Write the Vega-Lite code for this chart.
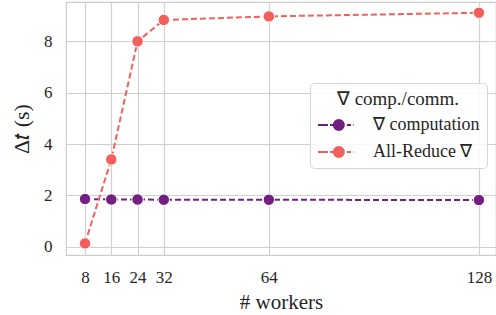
{
  "$schema": "https://vega.github.io/schema/vega-lite/v6.json",
  "width": 430,
  "height": 253,
  "autosize": "none",
  "padding": {"left": 66, "top": 2, "right": 0, "bottom": 60},
  "background": "white",
  "config": {
    "font": "Liberation Serif",
    "view": {"stroke": "#cccccc", "strokeWidth": 1.2},
    "axis": {
      "gridColor": "#d0d0d0",
      "gridWidth": 1.2,
      "domain": false,
      "ticks": false,
      "labelFont": "Liberation Serif",
      "titleFont": "Liberation Serif"
    }
  },
  "data": {
    "values": [
      {"workers": 8, "series": "∇ computation", "t": 1.86},
      {"workers": 16, "series": "∇ computation", "t": 1.84},
      {"workers": 24, "series": "∇ computation", "t": 1.84},
      {"workers": 32, "series": "∇ computation", "t": 1.83},
      {"workers": 64, "series": "∇ computation", "t": 1.83},
      {"workers": 128, "series": "∇ computation", "t": 1.82},
      {"workers": 8, "series": "All-Reduce ∇", "t": 0.13},
      {"workers": 16, "series": "All-Reduce ∇", "t": 3.4},
      {"workers": 24, "series": "All-Reduce ∇", "t": 8.0},
      {"workers": 32, "series": "All-Reduce ∇", "t": 8.83},
      {"workers": 64, "series": "All-Reduce ∇", "t": 8.97},
      {"workers": 128, "series": "All-Reduce ∇", "t": 9.11}
    ]
  },
  "mark": {
    "type": "line",
    "strokeDash": [6, 3],
    "strokeWidth": 2,
    "point": {"filled": true, "size": 130, "opacity": 1, "stroke": "white", "strokeWidth": 1}
  },
  "encoding": {
    "x": {
      "field": "workers",
      "type": "quantitative",
      "scale": {"domain": [2.2, 133.2], "nice": false, "zero": false},
      "axis": {"values": [8, 16, 24, 32, 64, 128], "title": "# workers", "labelFont": "Liberation Serif", "labelFontSize": 17, "labelColor": "#262626", "titleFont": "Liberation Serif", "titleFontSize": 21, "titleFontWeight": "normal", "titleColor": "#262626", "labelPadding": 14, "titlePadding": 6}
    },
    "y": {
      "field": "t",
      "type": "quantitative",
      "scale": {"domain": [-0.32, 9.53], "nice": false, "zero": false},
      "axis": {"values": [0, 2, 4, 6, 8], "title": "Δ𝑡 (s)", "labelFont": "Liberation Serif", "labelFontSize": 17, "labelColor": "#262626", "titleFont": "Liberation Serif", "titleFontSize": 22, "titleFontWeight": "normal", "titleColor": "#262626", "labelPadding": 14, "titlePadding": 10}
    },
    "color": {
      "field": "series",
      "type": "nominal",
      "scale": {"domain": ["∇ computation", "All-Reduce ∇"], "range": ["#721f81", "#f1605d"]},
      "legend": {
        "title": "∇ comp./comm.",
        "orient": "none",
        "legendX": 244,
        "legendY": 81,
        "titleFont": "Liberation Serif",
        "labelFont": "Liberation Serif",
        "titleFontSize": 19,
        "titleFontWeight": "normal",
        "titleAnchor": "middle",
        "titleColor": "#262626",
        "titlePadding": 5,
        "labelFontSize": 18,
        "labelColor": "#262626",
        "labelOffset": 34,
        "rowPadding": 7,
        "padding": 7,
        "fillColor": "rgba(255,255,255,0.85)",
        "strokeColor": "#d6d6d6",
        "cornerRadius": 4,
        "symbolType": "M-1,0H0M0.2,0H0.6M1.9,0H2.3M2.55,0H2.6M1.58,0A0.5,0.5,0,1,1,0.58,0A0.5,0.5,0,1,1,1.58,0Z",
        "symbolSize": 400,
        "symbolStrokeWidth": 2,
        "symbolOpacity": 1,
        "encode": {
          "symbols": {
            "update": {
              "fill": {"scale": "color", "field": "value"},
              "stroke": {"scale": "color", "field": "value"},
              "opacity": {"value": 1}
            }
          }
        }
      }
    }
  }
}
